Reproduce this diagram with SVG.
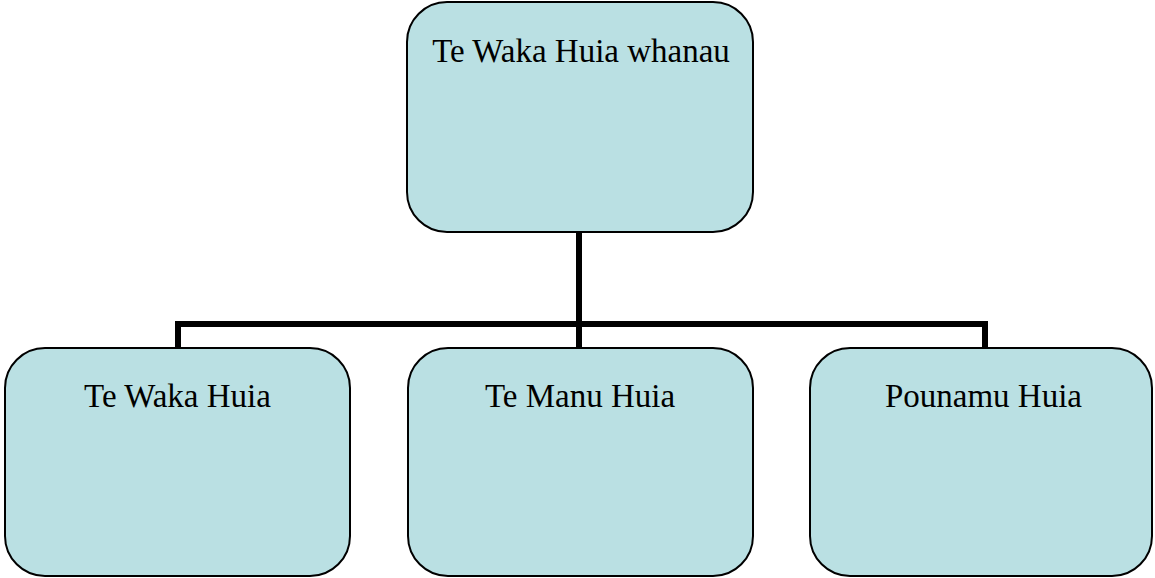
<svg xmlns="http://www.w3.org/2000/svg" width="1155" height="578" viewBox="0 0 1155 578">
<style>
.box{fill:#bae0e3;stroke:#000;stroke-width:2}
.lbl{font-family:"Liberation Serif","Times New Roman",serif;font-size:33px;fill:#000;text-anchor:middle}
.conn{fill:none;stroke:#000;stroke-width:6}
</style>
<rect width="1155" height="578" fill="#fff"/>
<g id="connectors">
<path class="conn" d="M579,232 V348"/>
<path class="conn" d="M178,348 V324 H985 V348"/>
</g>
<g id="root">
<rect class="box" x="407" y="2" width="346" height="230" rx="40"/>
<text class="lbl" x="581" y="62">Te Waka Huia whanau</text>
</g>
<g id="waka">
<rect class="box" x="5" y="348" width="345" height="228" rx="40"/>
<text class="lbl" x="177.5" y="407">Te Waka Huia</text>
</g>
<g id="manu">
<rect class="box" x="408" y="348" width="345" height="228" rx="40"/>
<text class="lbl" x="580" y="407">Te Manu Huia</text>
</g>
<g id="pounamu">
<rect class="box" x="810" y="348" width="342" height="228" rx="40"/>
<text class="lbl" x="983.5" y="407">Pounamu Huia</text>
</g>
</svg>
